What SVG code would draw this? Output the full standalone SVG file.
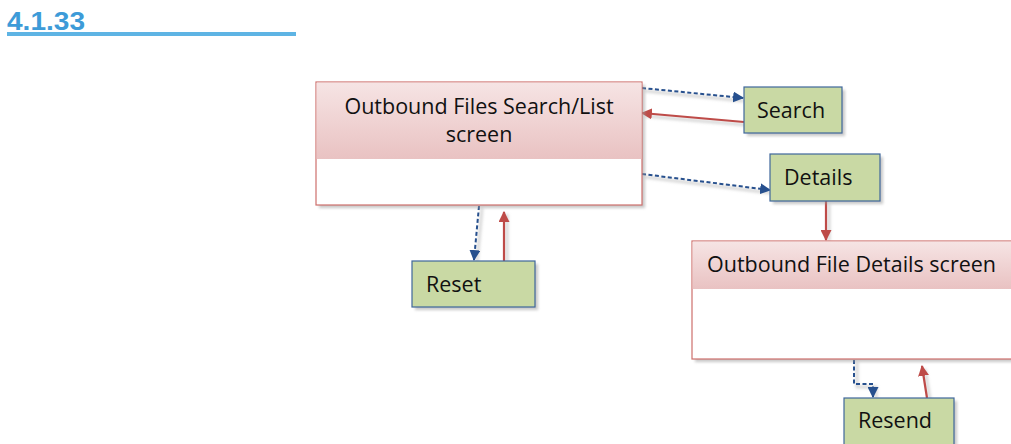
<svg xmlns="http://www.w3.org/2000/svg" width="1011" height="444" viewBox="0 0 1011 444">
<style>
.title{font-family:"Liberation Sans",Arial,sans-serif;font-weight:bold;font-size:25px;fill:#3D9BD8}
.lbl{font-family:"Open Sans","Noto Sans",sans-serif;font-size:21.5px;fill:#111}
.screen{fill:#fff;stroke:#CD6F6C;stroke-width:1.2}
.btn{fill:#C9D9A4;stroke:#3F679C;stroke-width:1.2}
.shadow{fill:#9a9a9a;opacity:0.55}
.dash{fill:none;stroke:#27508E;stroke-width:2;stroke-dasharray:4 2.5}
.red{fill:none;stroke:#BE4B48;stroke-width:2.2}
.lshadow{fill:none;stroke:#bbb;stroke-width:2.5;opacity:0.7}
</style>
<defs>
<linearGradient id="hdr" x1="0" y1="0" x2="0" y2="1">
<stop offset="0" stop-color="#F6E4E4"/>
<stop offset="1" stop-color="#E9C2C2"/>
</linearGradient>
<marker id="ab" viewBox="0 0 10 10" refX="9" refY="5" markerWidth="11" markerHeight="11" orient="auto" markerUnits="userSpaceOnUse">
<path d="M0,0 L10,5 L0,10 z" fill="#27508E"/>
</marker>
<marker id="ar" viewBox="0 0 10 10" refX="9" refY="5" markerWidth="11" markerHeight="11" orient="auto" markerUnits="userSpaceOnUse">
<path d="M0,0 L10,5 L0,10 z" fill="#BE4B48"/>
</marker>
<filter id="blur" x="-10%" y="-10%" width="130%" height="130%"><feGaussianBlur stdDeviation="1.5"/></filter>
</defs>

<g id="heading">
<text class="title" x="7" y="30" textLength="78" lengthAdjust="spacingAndGlyphs">4.1.33</text>
<rect x="7" y="32" width="289" height="4" fill="#5EB4E4"/>
</g>

<g id="connectors">
<g filter="url(#blur)">
<path class="lshadow" d="M645,91 L744,101"/>
<path class="lshadow" d="M747,125 L645,116"/>
<path class="lshadow" d="M645,177 L771,193"/>
<path class="lshadow" d="M829,204 L829,241"/>
<path class="lshadow" d="M482,208 L477,262"/>
<path class="lshadow" d="M507,263 L507,214"/>
<path class="lshadow" d="M857,362 L857,387 L876,387 L876,399"/>
<path class="lshadow" d="M930,400 L925,369"/>
</g>
<path class="dash" d="M642,88 L743,98" marker-end="url(#ab)"/>
<path class="red" d="M744,122 L642,113" marker-end="url(#ar)"/>
<path class="dash" d="M642,174 L770,190" marker-end="url(#ab)"/>
<path class="red" d="M826,201 L826,240" marker-end="url(#ar)"/>
<path class="dash" d="M479,206 L474,260" marker-end="url(#ab)"/>
<path class="red" d="M504,261 L504,212" marker-end="url(#ar)"/>
<path class="dash" d="M854,360 L854,384 L873,384 L873,397" marker-end="url(#ab)"/>
<path class="red" d="M927,398 L922,366" marker-end="url(#ar)"/>
</g>

<g id="search-list-screen">
<rect class="shadow" x="319" y="85" width="326" height="123" filter="url(#blur)"/>
<rect class="screen" x="316" y="82" width="326" height="123"/>
<rect x="316.6" y="82.6" width="324.8" height="76.4" fill="url(#hdr)"/>
<text class="lbl" text-anchor="middle" x="479" y="114">Outbound Files Search/List</text>
<text class="lbl" text-anchor="middle" x="479" y="142">screen</text>
</g>

<g id="search">
<rect class="shadow" x="747" y="90" width="98" height="46" filter="url(#blur)"/>
<rect class="btn" x="744" y="87" width="98" height="46"/>
<text class="lbl" x="757" y="118">Search</text>
</g>

<g id="details">
<rect class="shadow" x="773" y="157" width="110" height="47" filter="url(#blur)"/>
<rect class="btn" x="770" y="154" width="110" height="47"/>
<text class="lbl" x="784" y="185">Details</text>
</g>

<g id="reset">
<rect class="shadow" x="415" y="264" width="123" height="46" filter="url(#blur)"/>
<rect class="btn" x="412" y="261" width="123" height="46"/>
<text class="lbl" x="426" y="292">Reset</text>
</g>

<g id="file-details-screen">
<rect class="shadow" x="695" y="244" width="330" height="118" filter="url(#blur)"/>
<rect class="screen" x="692" y="241" width="330" height="118"/>
<rect x="692.6" y="241.6" width="328.8" height="47.4" fill="url(#hdr)"/>
<text class="lbl" x="707" y="272">Outbound File Details screen</text>
</g>

<g id="resend">
<rect class="shadow" x="847" y="401" width="110" height="50" filter="url(#blur)"/>
<rect class="btn" x="844" y="398" width="110" height="50"/>
<text class="lbl" x="858" y="428">Resend</text>
</g>
</svg>
